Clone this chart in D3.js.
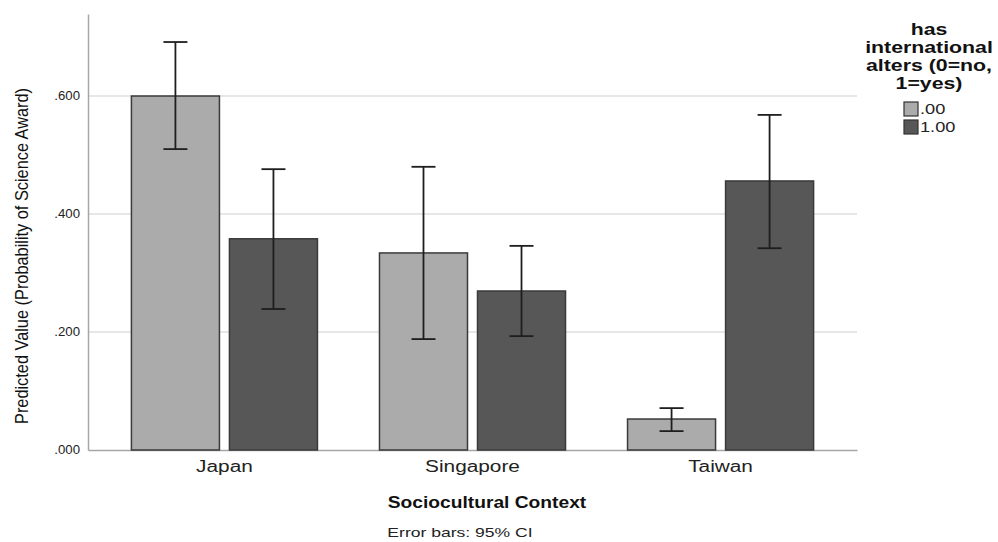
<!DOCTYPE html>
<html>
<head>
<meta charset="utf-8">
<script src="https://cdn.jsdelivr.net/npm/d3@7"></script>
<style>
body { margin:0; background:#fff; }
svg { font-family: "Liberation Sans", Arial, sans-serif; }
</style>
</head>
<body>
<div id="chart"></div>
<script>
// data
var contexts = ["Japan", "Singapore", "Taiwan"];
var groups = [".00", "1.00"];
var means0 = [0.600, 0.334, 0.0525];
var means1 = [0.358, 0.2695, 0.456];
var upper0 = [0.6915, 0.480, 0.071];
var lower0 = [0.510, 0.188, 0.032];
var upper1 = [0.476, 0.346, 0.568];
var lower1 = [0.239, 0.193, 0.342];
var yTicks = [0, 0.2, 0.4, 0.6];

var width = 998, height = 542;
var plotLeft = 88, plotRight = 857, plotTop = 14, plotBottom = 450;
var colors = ["#ababab", "#575757"];

// SPSS text looks stretched sideways, widen the glyphs a bit
function stretch(sel, k) {
	sel.each(function(){
		var len = this.getComputedTextLength();
		d3.select(this).attr("textLength", len * k).attr("lengthAdjust", "spacingAndGlyphs");
	});
}

var rows = [];
for (var i = 0; i < contexts.length; i++) {
	rows.push({ctx: contexts[i], g: groups[0], v: means0[i], lo: lower0[i], hi: upper0[i]});
	rows.push({ctx: contexts[i], g: groups[1], v: means1[i], lo: lower1[i], hi: upper1[i]});
}

var svg = d3.select("#chart").append("svg")
	.attr("width", width)
	.attr("height", height);

var x = d3.scaleBand().domain(contexts).range([plotLeft, plotRight])
	.paddingInner(0.25).paddingOuter(0.175);
var xg = d3.scaleBand().domain(groups).range([0, x.bandwidth()]).paddingInner(0.102);
var y = d3.scaleLinear().domain([0, 0.739]).range([plotBottom, plotTop]);
var color = d3.scaleOrdinal().domain(groups).range(colors);

// gridlines
svg.append("g").selectAll("line").data(yTicks.slice(1)).enter().append("line")
	.attr("x1", plotLeft).attr("x2", plotRight)
	.attr("y1", function(d){ return y(d); })
	.attr("y2", function(d){ return y(d); })
	.attr("stroke", "#cfcfcf").attr("stroke-width", 1.2);

// y axis
var yAxis = d3.axisLeft(y).tickValues(yTicks).tickSize(0).tickPadding(8)
	.tickFormat(function(d){ return d3.format(".3f")(d).replace(/^0/, ""); });
var yAxisGroup = svg.append("g").attr("transform", "translate(" + plotLeft + ",0)").call(yAxis);
yAxisGroup.select(".domain").attr("stroke", "#a6a6a6").attr("stroke-width", 1.5);
yAxisGroup.selectAll("text").attr("font-size", 12).attr("fill", "#222")
	.attr("font-family", "Liberation Sans, Arial, sans-serif");
stretch(yAxisGroup.selectAll("text"), 1.1);

// x axis
var xAxis = d3.axisBottom(x).tickSize(0).tickPadding(11);
var xAxisGroup = svg.append("g").attr("transform", "translate(0," + plotBottom + ")").call(xAxis);
xAxisGroup.select(".domain").attr("stroke", "#a6a6a6").attr("stroke-width", 1.5);
xAxisGroup.selectAll("text").attr("font-size", 16).attr("fill", "#222")
	.attr("font-family", "Liberation Sans, Arial, sans-serif");
stretch(xAxisGroup.selectAll("text"), 1.3);

// bars
svg.append("g").selectAll("rect").data(rows).enter().append("rect")
	.attr("x", function(d){ return x(d.ctx) + xg(d.g); })
	.attr("y", function(d){ return y(d.v); })
	.attr("width", xg.bandwidth())
	.attr("height", function(d){ return y(0) - y(d.v); })
	.attr("fill", function(d){ return color(d.g); })
	.attr("stroke", "#3a3a3a").attr("stroke-width", 1.5);

// error bars
var eb = svg.append("g").selectAll("g").data(rows).enter().append("g")
	.attr("transform", function(d){ return "translate(" + (x(d.ctx) + xg(d.g) + xg.bandwidth() / 2) + ",0)"; });
eb.append("line").attr("x1", 0).attr("x2", 0)
	.attr("y1", function(d){ return y(d.hi); })
	.attr("y2", function(d){ return y(d.lo); })
	.attr("stroke", "#1e1e1e").attr("stroke-width", 1.8);
eb.append("line").attr("x1", -12).attr("x2", 12)
	.attr("y1", function(d){ return y(d.hi); })
	.attr("y2", function(d){ return y(d.hi); })
	.attr("stroke", "#1e1e1e").attr("stroke-width", 1.8);
eb.append("line").attr("x1", -12).attr("x2", 12)
	.attr("y1", function(d){ return y(d.lo); })
	.attr("y2", function(d){ return y(d.lo); })
	.attr("stroke", "#1e1e1e").attr("stroke-width", 1.8);

// axis titles (narrow, tall glyphs in the original)
svg.append("text")
	.attr("transform", "translate(28,256) rotate(-90)")
	.attr("text-anchor", "middle")
	.attr("font-size", 18)
	.attr("fill", "#111")
	.attr("textLength", 336)
	.attr("lengthAdjust", "spacingAndGlyphs")
	.text("Predicted Value (Probability of Science Award)");

var xTitle = svg.append("text")
	.attr("x", 487).attr("y", 508)
	.attr("text-anchor", "middle")
	.attr("font-size", 16).attr("font-weight", "bold")
	.attr("fill", "#111")
	.text("Sociocultural Context");
stretch(xTitle, 1.2);

var note = svg.append("text")
	.attr("x", 460).attr("y", 537)
	.attr("text-anchor", "middle")
	.attr("font-size", 13)
	.attr("fill", "#222")
	.text("Error bars: 95% CI");
stretch(note, 1.35);

// legend
var legendTitle = ["has", "international", "alters (0=no,", "1=yes)"];
var lg = svg.append("g");
lg.selectAll("text.title").data(legendTitle).enter().append("text")
	.attr("class", "title")
	.attr("x", 929)
	.attr("y", function(d, i){ return 35 + i * 18; })
	.attr("text-anchor", "middle")
	.attr("font-size", 16).attr("font-weight", "bold")
	.attr("fill", "#111")
	.text(function(d){ return d; });
stretch(lg.selectAll("text.title"), 1.33);

var items = lg.selectAll("g.item").data(groups).enter().append("g")
	.attr("class", "item")
	.attr("transform", function(d, i){ return "translate(904," + (102 + i * 18) + ")"; });
items.append("rect")
	.attr("width", 14).attr("height", 14)
	.attr("fill", function(d){ return color(d); })
	.attr("stroke", "#333").attr("stroke-width", 1.2);
items.append("text")
	.attr("x", 16).attr("y", 12)
	.attr("font-size", 14)
	.attr("fill", "#222")
	.text(function(d){ return d; });
stretch(items.selectAll("text"), 1.3);
</script>
</body>
</html>
